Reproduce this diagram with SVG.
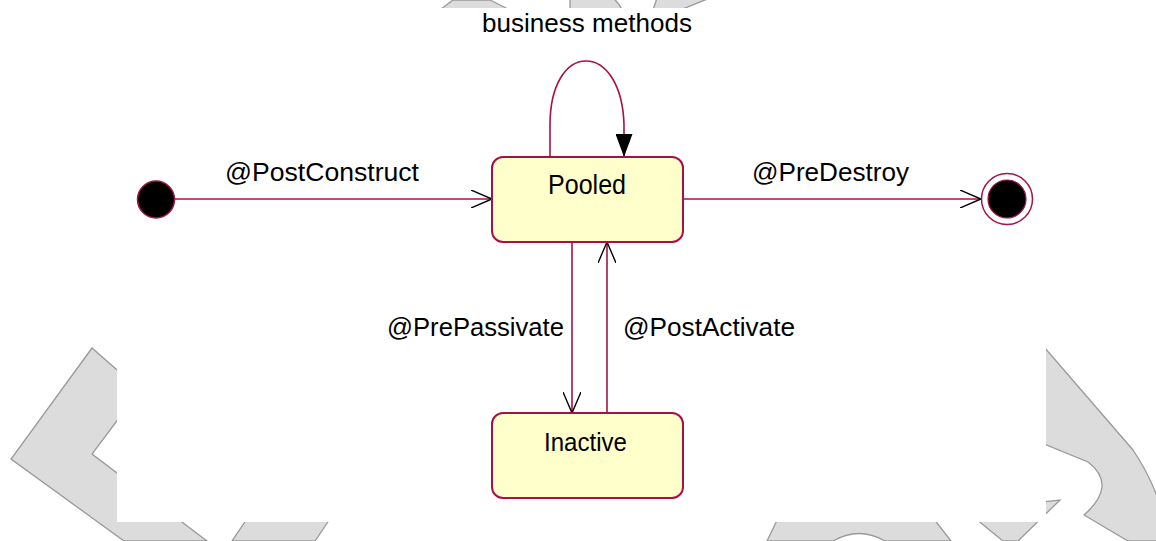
<svg xmlns="http://www.w3.org/2000/svg" width="1156" height="541" viewBox="0 0 1156 541">
  <style>
    .wm { fill: #dcdcdc; stroke: #999999; stroke-width: 1.3; }
    .state { fill: #ffffcc; stroke: #a5124a; stroke-width: 2; }
    .conn { fill: none; stroke: #a5124a; stroke-width: 1.6; }
    .lbl { font-family: "Liberation Sans", Arial, sans-serif; font-size: 26px; fill: #000000; }
    .name { font-family: "Liberation Sans", Arial, sans-serif; fill: #000000; text-anchor: middle; }
  </style>
  <defs>
    <marker id="open" viewBox="0 0 21 18" refX="21" refY="9" markerWidth="21" markerHeight="18" markerUnits="userSpaceOnUse" orient="auto">
      <path d="M0,0 L21,9 L0,18" fill="none" stroke="#000000" stroke-width="1.4"/>
    </marker>
    <marker id="filled" viewBox="0 0 23 17" refX="23" refY="8.5" markerWidth="23" markerHeight="17" markerUnits="userSpaceOnUse" orient="auto">
      <path d="M0,0 L23,8.5 L0,17 Z" fill="#000000"/>
    </marker>
  </defs>

  <rect x="0" y="0" width="1156" height="541" fill="#ffffff"/>

  <g id="watermark">
    <polygon class="wm" points="92,348 11,459 124,541 207,541 92,454 140,390"/>
    <polygon class="wm" points="253,510 336,510 315,541 232,541"/>
    <path class="wm" d="M782,510 L927,510 L951,541 L885,541 Q859,526 833,541 L767,541 Z"/>
    <polygon class="wm" points="965,510 1060,500 1018,541 1003,541"/>
    <path class="wm" d="M1000,296 L1133,450 Q1160,490 1170,541 L1128,541 L1084,515 Q1118,485 1088,462 L1000,426 Z"/>
    <polygon class="wm" points="453,0 490,0 508,9 441,9"/>
    <path class="wm" d="M570,-2 L613,-2 Q619,3 622,10 L570,10 Z"/>
    <polygon class="wm" points="657,-2 710,-2 680,10 653,10"/>
  </g>

  <rect x="117" y="8" width="929" height="514" fill="#ffffff"/>

  <g id="connectors">
    <path class="conn" d="M175,199 H492" marker-end="url(#open)"/>
    <path class="conn" d="M683,199 H981" marker-end="url(#open)"/>
    <path class="conn" d="M572,242 V413" marker-end="url(#open)"/>
    <path class="conn" d="M607,413 V242" marker-end="url(#open)"/>
    <path class="conn" d="M550,157 V125 C550,85 566,61 586,61 C606,61 623,85 624,125 V157" marker-end="url(#filled)"/>
  </g>

  <g id="labels">
    <text class="lbl" x="482" y="32" textLength="210" lengthAdjust="spacingAndGlyphs">business methods</text>
    <text class="lbl" x="225" y="181" textLength="194" lengthAdjust="spacingAndGlyphs">@PostConstruct</text>
    <text class="lbl" x="752" y="181" textLength="157" lengthAdjust="spacingAndGlyphs">@PreDestroy</text>
    <text class="lbl" x="387" y="336" textLength="177" lengthAdjust="spacingAndGlyphs">@PrePassivate</text>
    <text class="lbl" x="623" y="336" textLength="172" lengthAdjust="spacingAndGlyphs">@PostActivate</text>
  </g>

  <g id="initial">
    <circle cx="156" cy="199.5" r="18.5" fill="#000000" stroke="#a5124a" stroke-width="1.5"/>
  </g>

  <g id="pooled">
    <rect class="state" x="492" y="157" width="191" height="85" rx="11" ry="11"/>
    <text class="name" x="587" y="194" font-size="28" textLength="78" lengthAdjust="spacingAndGlyphs">Pooled</text>
  </g>

  <g id="inactive">
    <rect class="state" x="492" y="413" width="191" height="85" rx="11" ry="11"/>
    <text class="name" x="585.5" y="451" font-size="26" textLength="83" lengthAdjust="spacingAndGlyphs">Inactive</text>
  </g>

  <g id="final">
    <circle cx="1007" cy="199" r="25.5" fill="#ffffff" stroke="#a5124a" stroke-width="1.5"/>
    <circle cx="1007" cy="199" r="19" fill="#000000" stroke="#a5124a" stroke-width="1.2"/>
  </g>
</svg>
